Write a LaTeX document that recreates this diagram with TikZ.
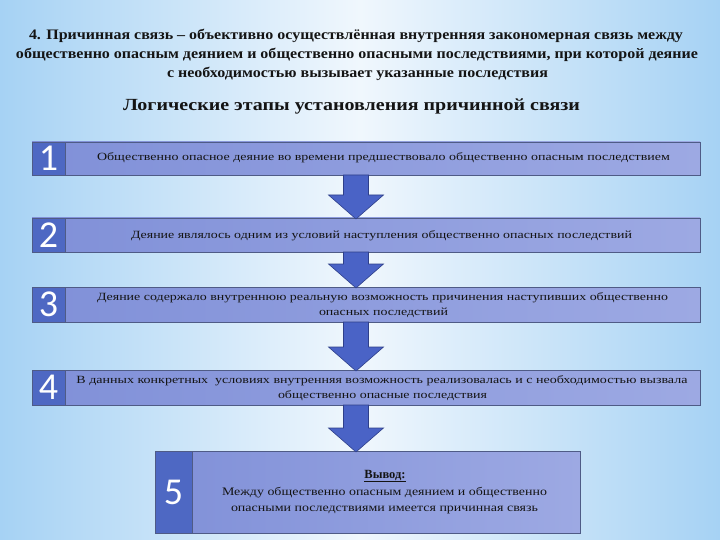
\documentclass[tikz,border=0pt]{standalone}
\usepackage{fontspec}
\usepackage{graphicx}
\setmainfont{Liberation Serif}
\newfontfamily\numfont{Carlito}
\usetikzlibrary{calc}
\definecolor{bgE}{HTML}{A6D2F4}
\definecolor{bgC}{HTML}{F0F7FD}
\definecolor{boxL}{HTML}{8090D8}
\definecolor{boxR}{HTML}{9DA9E3}
\definecolor{boxD}{HTML}{4F5B86}
\definecolor{numF}{HTML}{4E68C3}
\definecolor{arrF}{HTML}{4A63C6}
\definecolor{arrD}{HTML}{2E3F8A}
\definecolor{ink}{HTML}{141414}
\newsavebox\fitbox
\newdimen\fitd
\newcommand\fitw[2]{\sbox\fitbox{#2}\fitd=\wd\fitbox\pgfmathsetmacro\fitr{#1/\fitd}\scalebox{\fitr}[1]{\usebox\fitbox}}
\tikzset{
  stagebox/.style={draw=boxD, line width=0.6pt, left color=boxL, right color=boxR, inner sep=0pt, outer sep=0pt, anchor=north west},
  numbox/.style={draw=boxD, line width=0.6pt, fill=numF, inner sep=0pt, outer sep=0pt, anchor=north west, text=white, font=\numfont\fontsize{38}{38}\selectfont},
  txt/.style={inner sep=0pt, text=ink, font=\fontsize{11}{13}\selectfont},
  ttl/.style={inner sep=0pt, text=ink, font=\fontsize{14.5}{16}\selectfont\bfseries},
  arrowsty/.style={fill=arrF, draw=arrD, line width=0.6pt, line join=miter},
}
\newcommand\barrow[2]{\path[arrowsty] let \p1=(#1.south -| ax), \p2=(#2.north -| ax) in
  (\x1-12.5pt,\y1) -- (\x1-12.5pt,\y2+23pt) -- (\x1-27.5pt,\y2+23pt) -- (\x1,\y2-1pt) --
  (\x1+27.5pt,\y2+23pt) -- (\x1+12.5pt,\y2+23pt) -- (\x1+12.5pt,\y1) -- cycle;}
\begin{document}
\begin{tikzpicture}[x=1pt,y=-1pt]
\useasboundingbox (0,0) rectangle (720,540);
\shade[left color=bgE, right color=bgE, middle color=bgC] (0,0) rectangle (720,540);
% title
\node[ttl] (h1) at (356,36) {\fitw{654pt}{4. Причинная связь – объективно осуществлённая внутренняя закономерная связь между}};
\node[ttl] (h2) at (357,55) {\fitw{682pt}{общественно опасным деянием и общественно опасными последствиями, при которой деяние}};
\node[ttl] (h3) at (357.5,74) {\fitw{381pt}{с необходимостью вызывает указанные последствия}};
\node[ttl, font=\fontsize{17}{19}\selectfont\bfseries] (h4) at (351.5,106) {\fitw{457pt}{Логические этапы установления причинной связи}};
% boxes
\node[stagebox, minimum width=668pt, minimum height=33pt] (b1) at (32,142) {};
\node[stagebox, minimum width=668pt, minimum height=34pt] (b2) at (32,218) {};
\node[stagebox, minimum width=668pt, minimum height=35pt] (b3) at (32,287) {};
\node[stagebox, minimum width=668pt, minimum height=35pt] (b4) at (32,370) {};
\node[stagebox, minimum width=425pt, minimum height=82pt] (b5) at (155,451) {};
\node[numbox, minimum width=33pt, minimum height=33pt] (n1) at (32,142) {1};
\node[numbox, minimum width=33pt, minimum height=34pt] (n2) at (32,218) {2};
\node[numbox, minimum width=33pt, minimum height=35pt] (n3) at (32,287) {3};
\node[numbox, minimum width=33pt, minimum height=35pt] (n4) at (32,370) {4};
\node[numbox, minimum width=37pt, minimum height=82pt] (n5) at (155,451) {5};
% texts
\node[txt] (t1) at (383.5,158) {\fitw{573pt}{Общественно опасное деяние во времени предшествовало общественно опасным последствием}};
\node[txt] (t2) at (381.5,236) {\fitw{501pt}{Деяние являлось одним из условий наступления общественно опасных последствий}};
\node[txt] (t3a) at (382.5,298) {\fitw{571pt}{Деяние содержало внутреннюю реальную возможность причинения наступивших общественно}};
\node[txt] (t3b) at (383.5,313) {\fitw{129pt}{опасных последствий}};
\node[txt] (t4a) at (382,381) {\fitw{611pt}{В данных конкретных\ \ условиях внутренняя возможность реализовалась и с необходимостью вызвала}};
\node[txt] (t4b) at (382.5,396) {\fitw{209pt}{общественно опасные последствия}};
\node[txt, font=\fontsize{12.5}{14}\selectfont\bfseries] (t5h) at (385,476) {\underline{Вывод:}};
\node[txt, font=\fontsize{11.5}{13}\selectfont] (t5a) at (384.5,493) {\fitw{325pt}{Между общественно опасным деянием и общественно}};
\node[txt, font=\fontsize{11.5}{13}\selectfont] (t5b) at (384.5,510) {\fitw{307pt}{опасными последствиями имеется причинная связь}};
% arrows
\coordinate (ax) at (356,0);
\barrow{b1}{b2}
\barrow{b2}{b3}
\barrow{b3}{b4}
\barrow{b4}{b5}
\end{tikzpicture}
\end{document}
